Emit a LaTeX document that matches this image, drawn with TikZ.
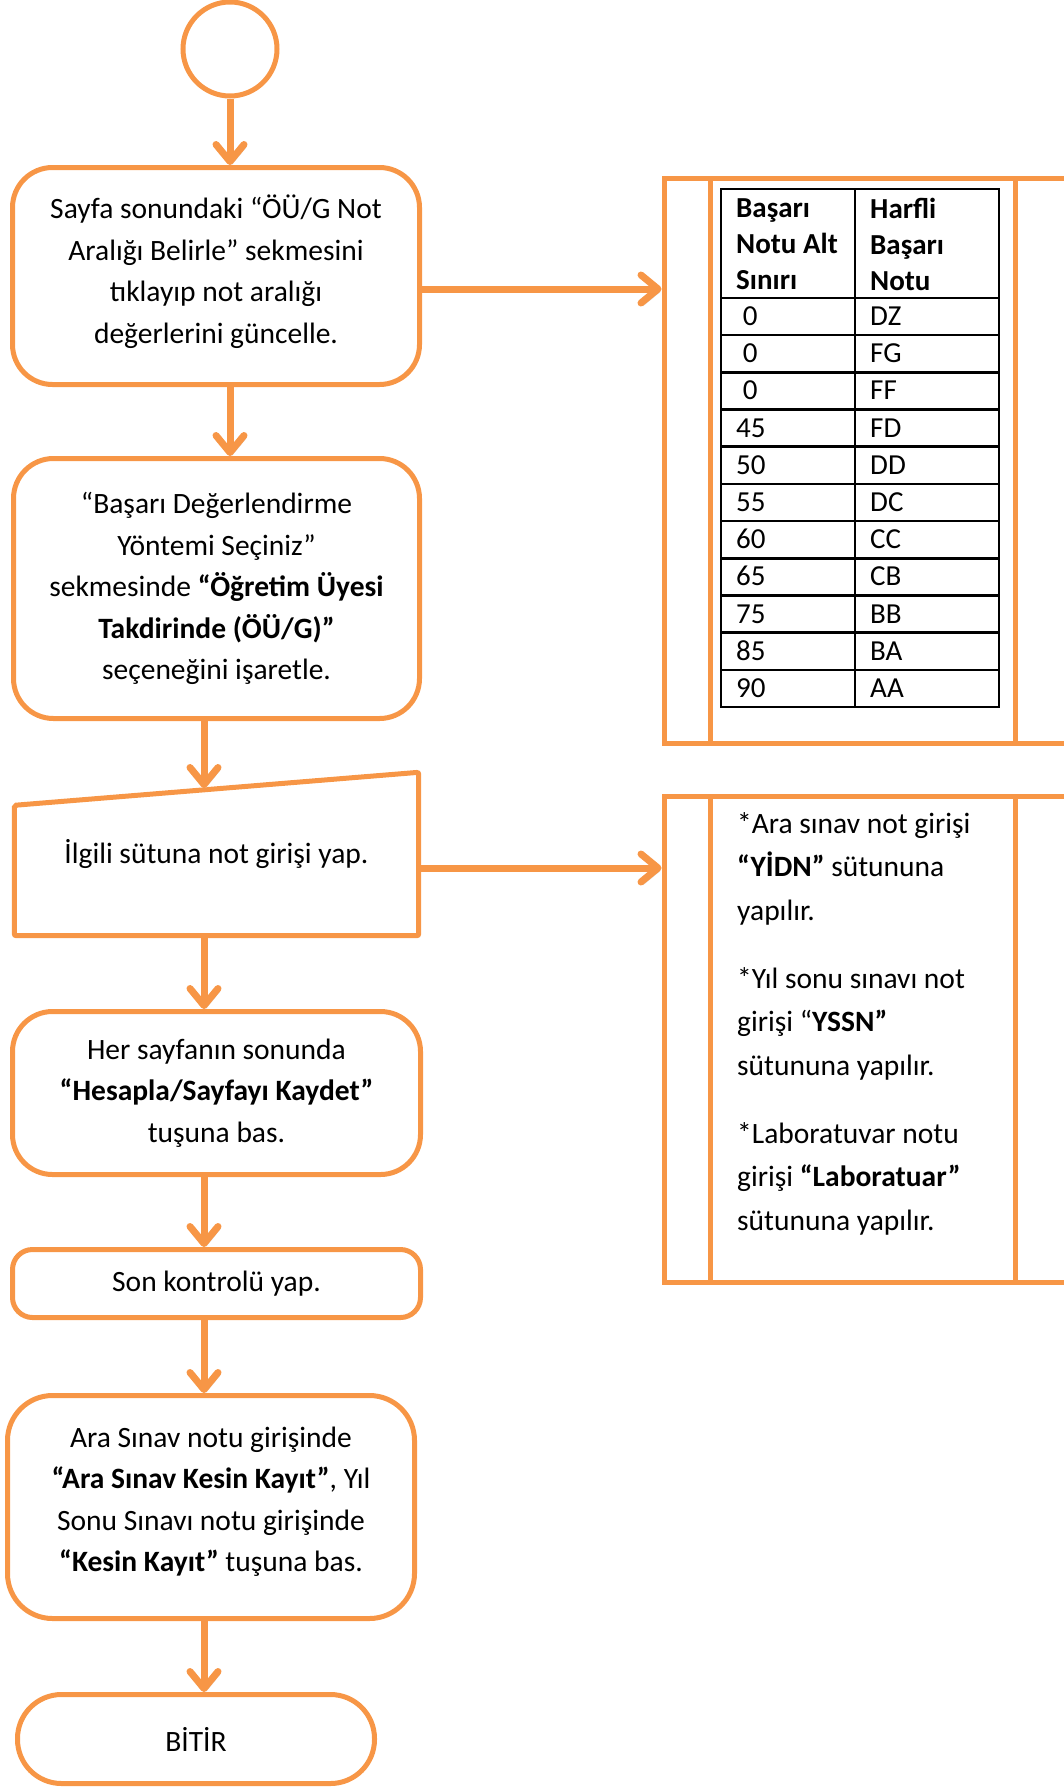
\documentclass[tikz,border=0pt]{standalone}
\usepackage{fontspec}
\setmainfont{Carlito}
\usetikzlibrary{arrows.meta,calc}
\definecolor{orng}{HTML}{F79646}

\begin{document}
\begin{tikzpicture}[x=1pt, y=-1pt,
            box/.style={draw=orng, line width=5pt, rounded corners=40pt, align=center, inner sep=0pt, font=\fontsize{29.5}{41.5}\selectfont},
            term/.style={draw=orng, line width=5pt, circle, inner sep=0pt},
            panel/.style={draw=orng, line width=5pt, inner sep=0pt},
            flow/.style={draw=orng, line width=7pt, -{Straight Barb[length=17pt, width=28pt, round]},
                preaction={draw=black!15, transform canvas={shift={(2pt,-3pt)}}}},
            cell/.style={anchor=base west, inner sep=0pt, font=\fontsize{29}{36}\selectfont}
            ]
            \useasboundingbox (0,0) rectangle (1064,1789);

            % akis
            \node[term, minimum size=94pt] (start) at (230,49) {};
            \node[box, minimum width=407pt, minimum height=217pt, text depth=14pt] (sayfa) at (216,276) {Sayfa sonundaki “ÖÜ/G Not\\ Aralığı Belirle” sekmesini\\ tıklayıp not aralığı\\ değerlerini güncelle.};
            \node[box, minimum width=406pt, minimum height=260pt] (secim) at (216.5,588.5) {“Başarı Değerlendirme\\ Yöntemi Seçiniz”\\ sekmesinde \textbf{“Öğretim Üyesi}\\ \textbf{Takdirinde (ÖÜ/G)”}\\ seçeneğini işaretle.};
            \node[inner sep=0pt, minimum width=404pt, minimum height=163pt, font=\fontsize{29.5}{41.5}\selectfont] (giris) at (216.5,854) {İlgili sütuna not girişi yap.};
            \node[box, minimum width=408pt, minimum height=163pt] (bas) at (216.5,1093) {Her sayfanın sonunda\\ \textbf{“Hesapla/Sayfayı Kaydet”}\\ tuşuna bas.};
            \node[box, rounded corners=20pt, minimum width=408pt, minimum height=68pt] (kontrol) at (216.5,1283.5) {Son kontrolü yap.};
            \node[box, rounded corners=45pt, minimum width=407pt, minimum height=223pt, text depth=16pt] (kayit) at (211,1507) {Ara Sınav notu girişinde\\ \textbf{“Ara Sınav Kesin Kayıt”}, Yıl\\ Sonu Sınavı notu girişinde\\ \textbf{“Kesin Kayıt”} tuşuna bas.};
            \node[box, rounded corners=44pt, minimum width=357pt, minimum height=89pt] (bitir) at (196,1739) {BİTİR};

            \draw[orng, line width=5pt, rounded corners=2pt] (giris.south west) -- (giris.south east) -- (giris.north east) -- ($(giris.north west)+(0,33)$) -- cycle;

            % sag kutular
            \node[panel, minimum width=416pt, minimum height=565pt] (tabpanel) at (872,461) {};
            \node[panel, minimum width=416pt, minimum height=486pt] (notpanel) at (872,1039.5) {};
            \foreach \p in {tabpanel,notpanel} {
                \draw[orng, line width=4.5pt] ($(\p.north west)+(49,0)$) -- ($(\p.south west)+(49,0)$);
                \draw[orng, line width=4.5pt] ($(\p.north west)+(354,0)$) -- ($(\p.south west)+(354,0)$);
            }

            % tablo
            \draw[line width=2.5pt] (721,189) rectangle (999,707);
            \draw[line width=2.5pt] (855,189) -- (855,707);
            \foreach \i in {0,...,10}
                \draw[line width=2.5pt] (721,{298+37.18*\i}) -- (999,{298+37.18*\i});
            \node[cell, anchor=north west, align=left, font=\bfseries\fontsize{29}{36}\selectfont] (altbaslik) at (736,198) {Başarı\\ Notu Alt\\ Sınırı};
            \node[cell, anchor=north west, align=left, font=\bfseries\fontsize{29}{36}\selectfont] (harfbaslik) at (870,198) {Harfli\\ Başarı\\ Notu};
            \foreach \lo/\gr [count=\i from 0] in {\ 0/DZ, \ 0/FG, \ 0/FF, 45/FD, 50/DD, 55/DC, 60/CC, 65/CB, 75/BB, 85/BA, 90/AA} {
                \node[cell] (alt\i) at (736,{298+37.18*(\i+0.5)+9}) {\lo};
                \node[cell] (harf\i) at (870,{298+37.18*(\i+0.5)+9}) {\gr};
            }

            % notlar
            \node[anchor=north west, inner sep=0pt, align=left, font=\fontsize{29.5}{43.3}\selectfont] (notlar) at (737,812.5) {*Ara sınav not girişi\\ \textbf{“YİDN”} sütununa\\ yapılır.\\[25pt] *Yıl sonu sınavı not\\ girişi “\textbf{YSSN”}\\ sütununa yapılır.\\[25pt] *Laboratuvar notu\\ girişi \textbf{“Laboratuar”}\\ sütununa yapılır.};

            % oklar
            \coordinate (col) at (204,0);
            \coordinate (girisust) at (204,788);
            \coordinate (ok1) at (0,289);
            \coordinate (ok2) at (0,868);
            \draw[flow] (start.south) -- (start.south |- sayfa.north);
            \draw[flow] (sayfa.south -| start) -- (secim.north -| start);
            \draw[flow] (secim.south -| col) -- (girisust);
            \draw[flow] (giris.south -| col) -- (bas.north -| col);
            \draw[flow] (bas.south -| col) -- (kontrol.north -| col);
            \draw[flow] (kontrol.south -| col) -- (kayit.north -| col);
            \draw[flow] (kayit.south -| col) -- (bitir.north -| col);
            \draw[flow] (sayfa.east |- ok1) -- (tabpanel.west |- ok1);
            \draw[flow] (giris.east |- ok2) -- (notpanel.west |- ok2);

            \end{tikzpicture}
\end{document}
